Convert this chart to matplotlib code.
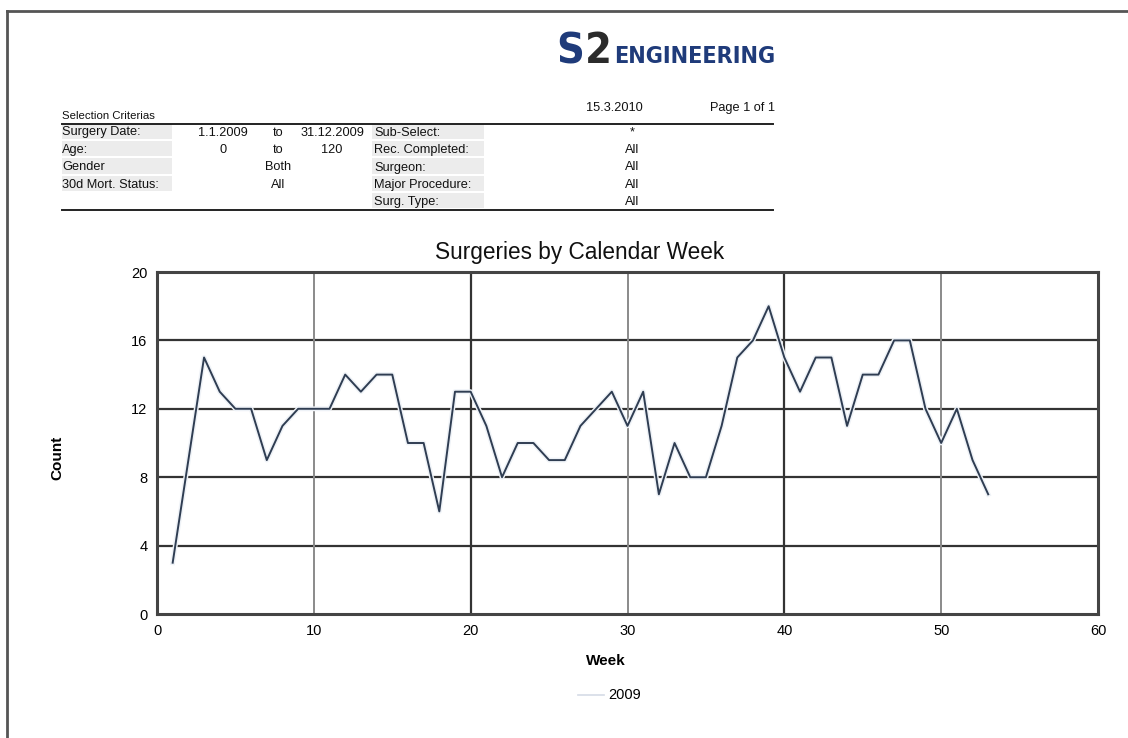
import matplotlib.pyplot as plt
from matplotlib.lines import Line2D
from matplotlib.patches import Rectangle

# weekly surgery counts, 2009
weeks = list(range(1, 54))
counts = [3, 9, 15, 13, 12, 12, 9, 11, 12, 12,
          12, 14, 13, 14, 14, 10, 10, 6, 13, 13,
          11, 8, 10, 10, 9, 9, 11, 12, 13, 11,
          13, 7, 10, 8, 8, 11, 15, 16, 18, 15,
          13, 15, 15, 11, 14, 14, 16, 16, 12, 10,
          12, 9, 7]
series_label = '2009'

x_ticks = [0, 10, 20, 30, 40, 50, 60]
y_ticks = [0, 4, 8, 12, 16, 20]

# selection criteria table
left_labels = ['Surgery Date:', 'Age:', 'Gender', '30d Mort. Status:', '']
left_from = ['1.1.2009', '0', '', '', '']
left_to = ['to', 'to', 'Both', 'All', '']
left_until = ['31.12.2009', '120', '', '', '']
right_labels = ['Sub-Select:', 'Rec. Completed:', 'Surgeon:', 'Major Procedure:', 'Surg. Type:']
right_values = ['*', 'All', 'All', 'All', 'All']

W, H = 1128, 738
fig = plt.figure(figsize=(W / 100, H / 100), dpi=100)
fig.patch.set_facecolor('white')


def px(x, y):
    return x / W, 1 - y / H


# page border (left and top)
fig.add_artist(Line2D([7 / W, 7 / W], [0, 1 - 11 / H], color='#555555', lw=2))
fig.add_artist(Line2D([7 / W, 1], [1 - 11 / H, 1 - 11 / H], color='#555555', lw=2))

# logo
fig.text(*px(556, 63), 'S', color='#1f3b7a', fontsize=31, fontweight='bold',
         va='baseline', ha='left', family='DejaVu Sans', stretch='condensed')
fig.text(*px(585, 63), '2', color='#2b2b2b', fontsize=31, fontweight='bold',
         va='baseline', ha='left', family='DejaVu Sans', stretch='condensed')
fig.text(*px(614, 63), 'ENGINEERING', color='#1f3b7a', fontsize=16.8, fontweight='bold',
         va='baseline', ha='left', family='DejaVu Sans', stretch='condensed')

# header
tfont = dict(fontsize=9.2, family='Liberation Sans', color='#111111')
fig.text(*px(62, 119), 'Selection Criterias', va='baseline', ha='left', fontsize=8.2,
         family='Liberation Sans', color='#111111')
fig.text(*px(614, 111), '15.3.2010', va='baseline', ha='center', **tfont)
fig.text(*px(742, 111), 'Page 1 of 1', va='baseline', ha='center', **tfont)
fig.add_artist(Line2D([62 / W, 773 / W], [1 - 123.5 / H] * 2, color='#222222', lw=1.4))
fig.add_artist(Line2D([62 / W, 773 / W], [1 - 209.5 / H] * 2, color='#222222', lw=1.4))

row_y = [131, 148.5, 166, 183.5, 200.5]
for i, y in enumerate(row_y):
    if left_labels[i]:
        fig.add_artist(Rectangle((62 / W, 1 - (y + 7.5) / H), 110 / W, 15 / H,
                                 facecolor='#ececec', edgecolor='none'))
    fig.add_artist(Rectangle((372 / W, 1 - (y + 7.5) / H), 112 / W, 15 / H,
                             facecolor='#ececec', edgecolor='none'))
    yb = y + 4.5
    fig.text(*px(62, yb), left_labels[i], va='baseline', ha='left', **tfont)
    fig.text(*px(223, yb), left_from[i], va='baseline', ha='center', **tfont)
    fig.text(*px(278, yb), left_to[i], va='baseline', ha='center', **tfont)
    fig.text(*px(332, yb), left_until[i], va='baseline', ha='center', **tfont)
    fig.text(*px(374, yb), right_labels[i], va='baseline', ha='left', **tfont)
    fig.text(*px(632, yb), right_values[i], va='baseline', ha='center', **tfont)

# chart
ax = fig.add_axes([157 / W, 1 - 614 / H, 941 / W, 342 / H])
ax.set_xlim(0, 60)
ax.set_ylim(0, 20)
ax.set_xticks(x_ticks)
ax.set_yticks(y_ticks)
ax.tick_params(length=0, labelsize=10.5, pad=7)
for lab in ax.get_xticklabels() + ax.get_yticklabels():
    lab.set_family('Liberation Sans')

for v in y_ticks[1:-1]:
    ax.axhline(v, color='#333333', lw=1.6, zorder=1)
for v in [10, 30, 50]:
    ax.axvline(v, color='#8a8a8a', lw=1.4, zorder=1)
for v in [20, 40]:
    ax.axvline(v, color='#333333', lw=1.6, zorder=1)
for s in ax.spines.values():
    s.set_color('#444444')
    s.set_linewidth(2.2)

ax.plot(weeks, counts, color='#eef2f7', lw=3.5, zorder=2)
ax.plot(weeks, counts, color='#2f3d52', lw=1.4, zorder=3)

fig.text(*px(580, 252), 'Surgeries by Calendar Week', ha='center', va='center',
         fontsize=16.3, family='Liberation Sans', color='#111111')
fig.text(*px(57, 458), 'Count', ha='center', va='center', rotation=90,
         fontsize=11, fontweight='bold', family='Liberation Sans')
fig.text(*px(606, 661), 'Week', ha='center', va='center',
         fontsize=11, fontweight='bold', family='Liberation Sans')

# legend
fig.add_artist(Line2D([578 / W, 604 / W], [1 - 695 / H] * 2, color='#d5dbe6', lw=1.2))
fig.text(*px(608, 695), series_label, ha='left', va='center',
         fontsize=10.5, family='Liberation Sans')

fig.savefig('out.png', dpi=100)
